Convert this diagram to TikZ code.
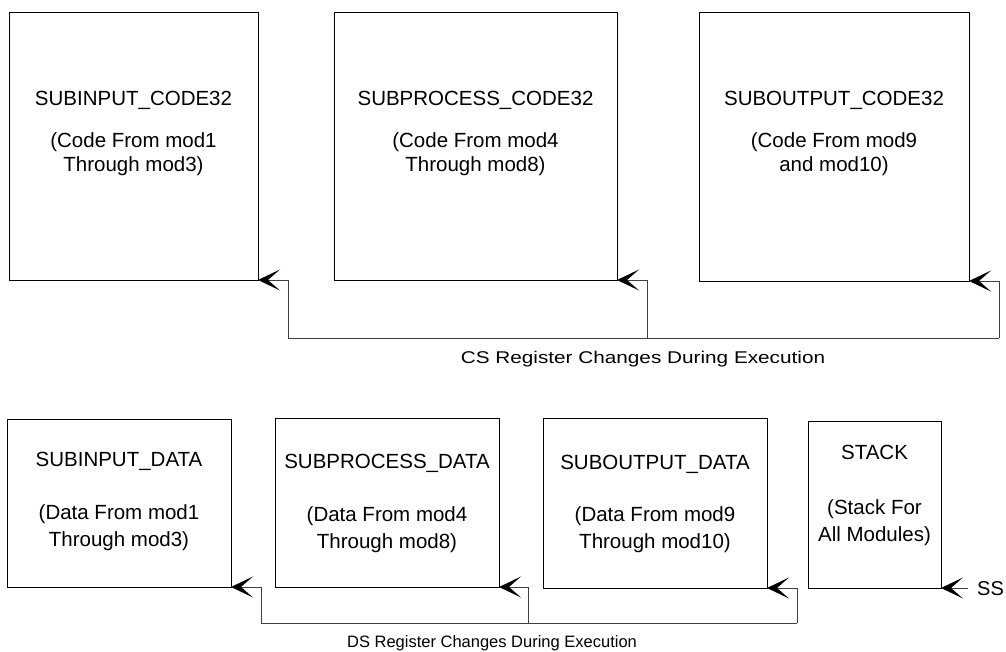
\documentclass[tikz,border=0pt]{standalone}
\usepackage{fontspec}
\setmainfont{Liberation Sans}
\usetikzlibrary{arrows.meta}
\tikzset{
  box/.style={draw=black, line width=0.9pt, inner sep=0pt, outer sep=0pt},
  txt/.style={anchor=base, inner sep=0pt, font=\fontsize{20.5}{24}\selectfont},
  conn/.style={draw=black!75, line width=0.9pt},
  arr/.style={conn, -{Stealth[length=22pt,width=21pt,inset=12pt,black,line width=1.5pt]}},
}
\begin{document}
\begin{tikzpicture}[x=1pt,y=-1pt]
\useasboundingbox (0,0) rectangle (1006,652);
% top boxes
\node[box, minimum width=249pt, minimum height=268pt] (b1) at (133.5,146) {};
\node[box, minimum width=283pt, minimum height=268pt] (b2) at (475.5,146) {};
\node[box, minimum width=270pt, minimum height=269pt] (b3) at (834,146.5) {};
% bottom boxes
\node[box, minimum width=224pt, minimum height=168pt] (b4) at (119,503) {};
\node[box, minimum width=224pt, minimum height=169pt] (b5) at (387,502.5) {};
\node[box, minimum width=224pt, minimum height=170pt] (b6) at (655,503) {};
\node[box, minimum width=133pt, minimum height=167pt] (b7) at (874.5,504.5) {};
% top texts
\node[txt] (t1a) at (133.5,106) {SUBINPUT\_CODE32};
\node[txt] (t1b) at (133.5,148) {(Code From mod1};
\node[txt] (t1c) at (133.5,172) {Through mod3)};
\node[txt] (t2a) at (475.5,106) {SUBPROCESS\_CODE32};
\node[txt] (t2b) at (475.5,148) {(Code From mod4};
\node[txt] (t2c) at (475.5,172) {Through mod8)};
\node[txt] (t3a) at (834,106) {SUBOUTPUT\_CODE32};
\node[txt] (t3b) at (834,148) {(Code From mod9};
\node[txt] (t3c) at (834,172) {and mod10)};
% bottom texts
\node[txt] (t4a) at (119,466) {SUBINPUT\_DATA};
\node[txt] (t4b) at (119,519) {(Data From mod1};
\node[txt] (t4c) at (119,546) {Through mod3)};
\node[txt] (t5a) at (387,468) {SUBPROCESS\_DATA};
\node[txt] (t5b) at (387,521) {(Data From mod4};
\node[txt] (t5c) at (387,548) {Through mod8)};
\node[txt] (t6a) at (655,469) {SUBOUTPUT\_DATA};
\node[txt] (t6b) at (655,521) {(Data From mod9};
\node[txt] (t6c) at (655,548) {Through mod10)};
\node[txt] (t7a) at (874.5,459) {STACK};
\node[txt] (t7b) at (874.5,514) {(Stack For};
\node[txt] (t7c) at (874.5,541) {All Modules)};
% CS connector
\coordinate (csR) at (999,338);
\coordinate (csM) at (647,338);
\coordinate (csL) at (288,338);
\draw[conn] (csR) -- (csL);
\draw[arr] (csR) |- (b3.south east);
\draw[arr] (csM) |- (b2.south east);
\draw[arr] (csL) |- (b1.south east);
\node[anchor=base, inner sep=0pt] (cslab) at (643,363) {\scalebox{1.22}[1]{\fontsize{17}{20}\selectfont CS Register Changes During Execution}};
% DS connector
\coordinate (dsR) at (797,623);
\coordinate (dsM) at (528,623);
\coordinate (dsL) at (261,623);
\draw[conn] (dsR) -- (dsL);
\draw[arr] (dsR) |- (b6.south east);
\draw[arr] (dsM) |- (b5.south east);
\draw[arr] (dsL) |- (b4.south east);
\node[anchor=base, inner sep=0pt, font=\fontsize{16.5}{20}\selectfont] (dslab) at (492,647) {DS Register Changes During Execution};
% SS
\node[anchor=base west, inner sep=0pt, font=\fontsize{20}{24}\selectfont] (ss) at (977,595) {SS};
\coordinate (ssA) at (968,588);
\draw[arr] (ssA) -- (b7.south east);
\end{tikzpicture}
\end{document}
